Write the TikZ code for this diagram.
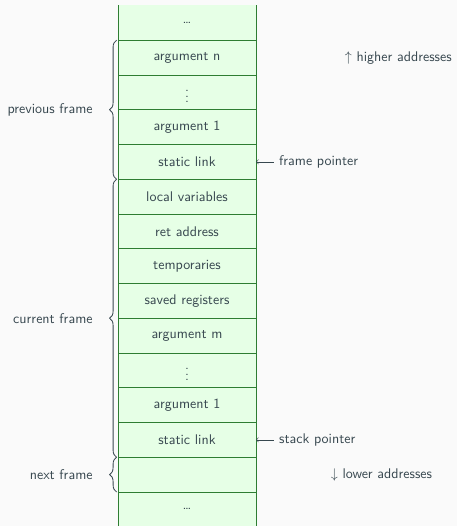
\documentclass[tikz,border=0pt]{standalone}
\usepackage{tikz}
\usetikzlibrary{positioning}
\usetikzlibrary{decorations.pathreplacing}

\definecolor{bgcol}{HTML}{FAFAFA}
\definecolor{cellfill}{HTML}{E6FFE6}
\definecolor{cellline}{HTML}{2E7D32}
\definecolor{ink}{HTML}{37474F}

\begin{document}
\begin{tikzpicture}
    [every node/.style={text=ink,font=\sffamily}]

    \tikzstyle{cell}    = [draw=cellline,line width=0.6pt,fill=cellfill,
                           minimum width=3.463cm,minimum height=0.872cm,
                           inner sep=0pt,outer sep=0pt]
    \tikzstyle{endcell} = [cell,draw=none]
    \tikzstyle{edge}    = [draw=cellline,line width=0.6pt]
    \tikzstyle{frame}   = [draw=ink,line width=0.6pt,decorate,
                           decoration={brace,amplitude=5pt,raise=1pt}]

    \fill [bgcol] (0,0) rectangle (11.47,-13.2) ;
    \useasboundingbox (0,0) rectangle (11.47,-13.2) ;

    % previous frame
    \node [endcell,anchor=north west] (c0) at (2.961,-0.138) {\dots} ;
    \node [cell,below=0pt of c0] (c1) {argument n} ;
    \node [cell,below=0pt of c1] (c2) {$\vdots$} ;
    \node [cell,below=0pt of c2] (c3) {argument 1} ;
    \node [cell,below=0pt of c3] (c4) {static link} ;

    % current frame
    \node [cell,below=0pt of c4]  (c5)  {local variables} ;
    \node [cell,below=0pt of c5]  (c6)  {ret address} ;
    \node [cell,below=0pt of c6]  (c7)  {temporaries} ;
    \node [cell,below=0pt of c7]  (c8)  {saved registers} ;
    \node [cell,below=0pt of c8]  (c9)  {argument m} ;
    \node [cell,below=0pt of c9]  (c10) {$\vdots$} ;
    \node [cell,below=0pt of c10] (c11) {argument 1} ;
    \node [cell,below=0pt of c11] (c12) {static link} ;

    % next frame
    \node [cell,below=0pt of c12]    (c13) {} ;
    \node [endcell,below=0pt of c13] (c14) {\dots} ;

    \draw [edge] (c0.north west) -- (c14.south west) ;
    \draw [edge] (c0.north east) -- (c14.south east) ;
    \draw [edge] (c13.south west) -- (c13.south east) ;

    \draw [frame] (c4.south west) -- (c1.north west)
          node [midway,left=14.5pt] {previous frame} ;
    \draw [frame] (c12.south west) -- (c5.north west)
          node [midway,left=14.5pt] {current frame} ;
    \draw [frame] (c13.south west) -- (c13.north west)
          node [midway,left=14.5pt] {next frame} ;

    \node [right=13pt of c4]  (fp) {frame pointer} ;
    \node [right=13pt of c12] (sp) {stack pointer} ;
    \draw [<-,ink] (c4.east)  -- (fp) ;
    \draw [<-,ink] (c12.east) -- (sp) ;

    \node [right=60pt of c1]  (hi) {$\uparrow$ higher addresses} ;
    \node [right=50pt of c13] (lo) {$\downarrow$ lower addresses} ;
\end{tikzpicture}
\end{document}
